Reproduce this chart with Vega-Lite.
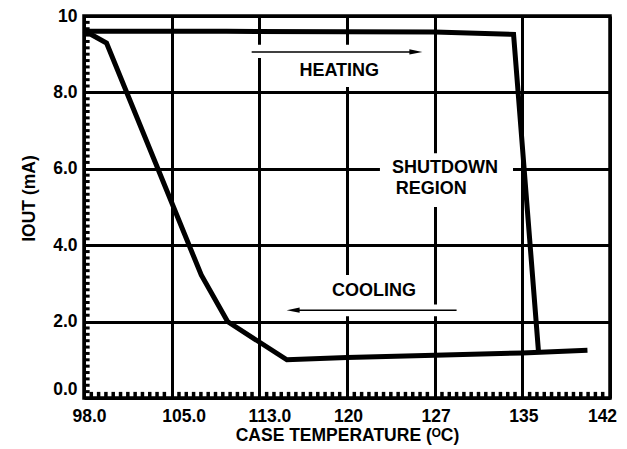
{
  "$schema": "https://vega.github.io/schema/vega-lite/v6.json",
  "width": 526,
  "height": 382,
  "autosize": {"type": "none"},
  "padding": {"left": 84, "top": 16, "right": 17, "bottom": 51},
  "background": "white",
  "config": {
    "font": "Liberation Sans",
    "view": {"stroke": "black", "strokeWidth": 3.5},
    "axis": {
      "domain": false,
      "ticks": false,
      "labelFont": "Liberation Sans",
      "labelFontWeight": "bold",
      "labelFontSize": 17.5,
      "labelColor": "black",
      "titleFont": "Liberation Sans",
      "titleFontWeight": "bold",
      "titleFontSize": 17.5,
      "titleColor": "black",
      "gridColor": "black",
      "gridWidth": 3,
      "gridOpacity": 1,
      "labelOverlap": false,
      "labelFlush": false,
      "labelBound": false
    }
  },
  "datasets": {
    "curve": [
      {"s": "heating", "k": 1, "t": 98, "i": 9.6},
      {"s": "heating", "k": 2, "t": 110, "i": 9.6},
      {"s": "heating", "k": 3, "t": 127, "i": 9.58},
      {"s": "heating", "k": 4, "t": 134.2, "i": 9.52},
      {"s": "heating", "k": 5, "t": 136.3, "i": 1.17},
      {"s": "cooling", "k": 1, "t": 140.2, "i": 1.25},
      {"s": "cooling", "k": 2, "t": 135, "i": 1.18},
      {"s": "cooling", "k": 3, "t": 127, "i": 1.12},
      {"s": "cooling", "k": 4, "t": 120, "i": 1.06},
      {"s": "cooling", "k": 5, "t": 115.2, "i": 1.0},
      {"s": "cooling", "k": 6, "t": 110.1, "i": 2.0},
      {"s": "cooling", "k": 7, "t": 107.7, "i": 3.22},
      {"s": "cooling", "k": 8, "t": 103.9, "i": 6.0},
      {"s": "cooling", "k": 9, "t": 99.8, "i": 9.29},
      {"s": "cooling", "k": 10, "t": 98, "i": 9.62}
    ],
    "boxes": [
      {"t": 115.6, "t2": 123.2, "i": 8.14, "i2": 9.1},
      {"t": 112.3, "t2": 125.9, "i": 8.9, "i2": 9.25},
      {"t": 122.63, "t2": 134.15, "i": 5.0, "i2": 6.41},
      {"t": 118.27, "t2": 126.2, "i": 2.17, "i2": 3.22},
      {"t": 115.2, "t2": 129.0, "i": 2.14, "i2": 2.45}
    ],
    "arrows": [
      {"t": 112.3, "t2": 125.5, "i": 9.06},
      {"t": 115.7, "t2": 129.0, "i": 2.3}
    ],
    "heads": [
      {"dir": "right", "t": 125.5, "i": 9.06},
      {"dir": "left", "t": 115.7, "i": 2.3}
    ],
    "notes": [
      {"label": "HEATING", "t": 116.2, "i": 8.56},
      {"label": "SHUTDOWN", "t": 123.6, "i": 6.01},
      {"label": "REGION", "t": 123.9, "i": 5.48},
      {"label": "COOLING", "t": 118.8, "i": 2.79}
    ],
    "xminor": [
      {"t": 98.583}, {"t": 99.167}, {"t": 99.75}, {"t": 100.333}, {"t": 100.917}, {"t": 101.5}, {"t": 102.083}, {"t": 102.667}, {"t": 103.25}, {"t": 103.833}, {"t": 104.417},
      {"t": 105.667}, {"t": 106.333}, {"t": 107}, {"t": 107.667}, {"t": 108.333}, {"t": 109}, {"t": 109.667}, {"t": 110.333}, {"t": 111}, {"t": 111.667}, {"t": 112.333},
      {"t": 113.583}, {"t": 114.167}, {"t": 114.75}, {"t": 115.333}, {"t": 115.917}, {"t": 116.5}, {"t": 117.083}, {"t": 117.667}, {"t": 118.25}, {"t": 118.833}, {"t": 119.417},
      {"t": 120.583}, {"t": 121.167}, {"t": 121.75}, {"t": 122.333}, {"t": 122.917}, {"t": 123.5}, {"t": 124.083}, {"t": 124.667}, {"t": 125.25}, {"t": 125.833}, {"t": 126.417},
      {"t": 127.667}, {"t": 128.333}, {"t": 129}, {"t": 129.667}, {"t": 130.333}, {"t": 131}, {"t": 131.667}, {"t": 132.333}, {"t": 133}, {"t": 133.667}, {"t": 134.333},
      {"t": 135.583}, {"t": 136.167}, {"t": 136.75}, {"t": 137.333}, {"t": 137.917}, {"t": 138.5}, {"t": 139.083}, {"t": 139.667}, {"t": 140.25}, {"t": 140.833}, {"t": 141.417}
    ],
    "yminor": [
      {"i": 0.1667}, {"i": 0.3333}, {"i": 0.5}, {"i": 0.6667}, {"i": 0.8333}, {"i": 1}, {"i": 1.1667}, {"i": 1.3333}, {"i": 1.5}, {"i": 1.6667}, {"i": 1.8333},
      {"i": 2.1667}, {"i": 2.3333}, {"i": 2.5}, {"i": 2.6667}, {"i": 2.8333}, {"i": 3}, {"i": 3.1667}, {"i": 3.3333}, {"i": 3.5}, {"i": 3.6667}, {"i": 3.8333},
      {"i": 4.1667}, {"i": 4.3333}, {"i": 4.5}, {"i": 4.6667}, {"i": 4.8333}, {"i": 5}, {"i": 5.1667}, {"i": 5.3333}, {"i": 5.5}, {"i": 5.6667}, {"i": 5.8333},
      {"i": 6.1667}, {"i": 6.3333}, {"i": 6.5}, {"i": 6.6667}, {"i": 6.8333}, {"i": 7}, {"i": 7.1667}, {"i": 7.3333}, {"i": 7.5}, {"i": 7.6667}, {"i": 7.8333},
      {"i": 8.1667}, {"i": 8.3333}, {"i": 8.5}, {"i": 8.6667}, {"i": 8.8333}, {"i": 9}, {"i": 9.1667}, {"i": 9.3333}, {"i": 9.5}, {"i": 9.6667}, {"i": 9.8333}
    ]
  },
  "layer": [
    {
      "data": {"name": "curve"},
      "mark": {"type": "line", "color": "black", "strokeWidth": 5, "strokeJoin": "miter", "strokeCap": "butt", "opacity": 0},
      "encoding": {
        "x": {
          "field": "t", "type": "quantitative",
          "scale": {"domain": [98, 105, 113, 120, 127, 135, 142], "range": [0, 87.667, 175.333, 263, 350.667, 438.333, 526], "nice": false, "zero": false},
          "axis": {
            "title": "CASE TEMPERATURE (ᴼC)",
            "values": [98, 105, 113, 120, 127, 135, 142],
            "grid": true,
            "labelPadding": 9,
            "titlePadding": 2,
            "labelOffset": {"expr": "datum.value==98?5:datum.value==105?12:datum.value==113?10:datum.value==142?-8:1"},
            "labelExpr": "datum.value==98?'98.0':datum.value==105?'105.0':datum.value==113?'113.0':''+datum.value"
          }
        },
        "y": {
          "field": "i", "type": "quantitative",
          "scale": {"domain": [0, 10], "nice": false, "zero": false},
          "axis": {
            "title": "IOUT (mA)",
            "values": [0, 2, 4, 6, 8, 10],
            "grid": true,
            "labelPadding": 7,
            "titlePadding": 14,
            "titleY": 182,
            "labelOffset": {"expr": "datum.value==0?-9:0"},
            "labelExpr": "datum.value==10?'10':format(datum.value,'.1f')"
          }
        },
        "detail": {"field": "s"},
        "order": {"field": "k", "type": "quantitative"}
      }
    },
    {
      "data": {"name": "xminor"},
      "mark": {"type": "rule", "color": "black", "strokeWidth": 3.5},
      "encoding": {
        "x": {"field": "t", "type": "quantitative", "scale": {"domain": [98, 105, 113, 120, 127, 135, 142], "range": [0, 87.667, 175.333, 263, 350.667, 438.333, 526], "nice": false, "zero": false}},
        "y": {"datum": 0, "type": "quantitative", "scale": {"domain": [0, 10], "nice": false, "zero": false}},
        "y2": {"datum": 0.16}
      }
    },
    {
      "data": {"name": "yminor"},
      "mark": {"type": "rule", "color": "black", "strokeWidth": 3},
      "encoding": {
        "x": {"datum": 98, "type": "quantitative", "scale": {"domain": [98, 105, 113, 120, 127, 135, 142], "range": [0, 87.667, 175.333, 263, 350.667, 438.333, 526], "nice": false, "zero": false}},
        "x2": {"datum": 98.45},
        "y": {"field": "i", "type": "quantitative", "scale": {"domain": [0, 10], "nice": false, "zero": false}}
      }
    },
    {
      "data": {"name": "boxes"},
      "mark": {"type": "rect", "fill": "white"},
      "encoding": {
        "x": {"field": "t", "type": "quantitative", "scale": {"domain": [98, 105, 113, 120, 127, 135, 142], "range": [0, 87.667, 175.333, 263, 350.667, 438.333, 526], "nice": false, "zero": false}},
        "x2": {"field": "t2"},
        "y": {"field": "i", "type": "quantitative", "scale": {"domain": [0, 10], "nice": false, "zero": false}},
        "y2": {"field": "i2"}
      }
    },
    {
      "data": {"name": "curve"},
      "mark": {"type": "line", "color": "black", "strokeWidth": 5, "strokeJoin": "miter", "strokeCap": "butt"},
      "encoding": {
        "x": {"field": "t", "type": "quantitative", "scale": {"domain": [98, 105, 113, 120, 127, 135, 142], "range": [0, 87.667, 175.333, 263, 350.667, 438.333, 526], "nice": false, "zero": false}},
        "y": {"field": "i", "type": "quantitative", "scale": {"domain": [0, 10], "nice": false, "zero": false}},
        "detail": {"field": "s"},
        "order": {"field": "k", "type": "quantitative"}
      }
    },
    {
      "data": {"name": "arrows"},
      "mark": {"type": "rule", "color": "black", "strokeWidth": 1.5},
      "encoding": {
        "x": {"field": "t", "type": "quantitative", "scale": {"domain": [98, 105, 113, 120, 127, 135, 142], "range": [0, 87.667, 175.333, 263, 350.667, 438.333, 526], "nice": false, "zero": false}},
        "x2": {"field": "t2"},
        "y": {"field": "i", "type": "quantitative", "scale": {"domain": [0, 10], "nice": false, "zero": false}}
      }
    },
    {
      "data": {"name": "heads"},
      "mark": {"type": "point", "filled": true, "color": "black", "opacity": 1, "size": 169},
      "encoding": {
        "x": {"field": "t", "type": "quantitative", "scale": {"domain": [98, 105, 113, 120, 127, 135, 142], "range": [0, 87.667, 175.333, 263, 350.667, 438.333, 526], "nice": false, "zero": false}},
        "y": {"field": "i", "type": "quantitative", "scale": {"domain": [0, 10], "nice": false, "zero": false}},
        "shape": {"field": "dir", "type": "nominal", "legend": null, "scale": {"domain": ["right", "left"], "range": ["M-1,-0.4L1,0L-1,0.4Z", "M1,-0.4L-1,0L1,0.4Z"]}}
      }
    },
    {
      "data": {"name": "notes"},
      "mark": {"type": "text", "align": "left", "baseline": "middle", "font": "Liberation Sans", "fontWeight": "bold", "fontSize": 18, "color": "black"},
      "encoding": {
        "x": {"field": "t", "type": "quantitative", "scale": {"domain": [98, 105, 113, 120, 127, 135, 142], "range": [0, 87.667, 175.333, 263, 350.667, 438.333, 526], "nice": false, "zero": false}},
        "y": {"field": "i", "type": "quantitative", "scale": {"domain": [0, 10], "nice": false, "zero": false}},
        "text": {"field": "label"}
      }
    }
  ]
}
